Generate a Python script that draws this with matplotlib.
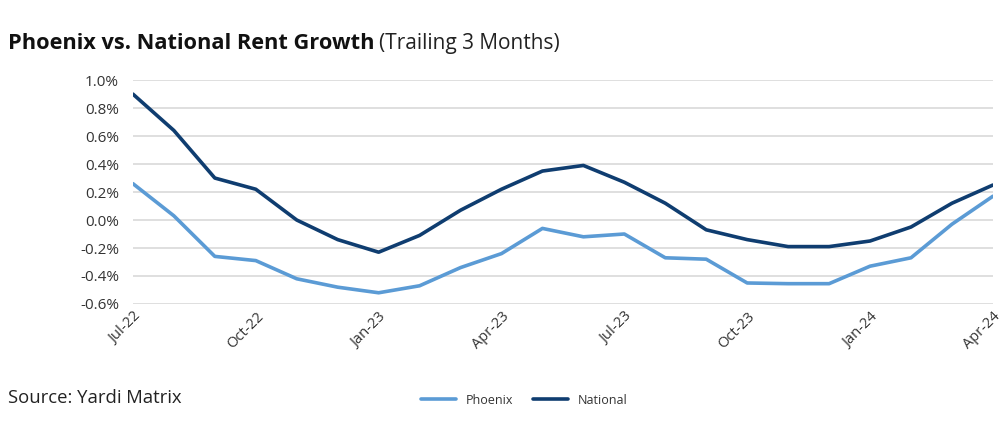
import matplotlib
matplotlib.use("Agg")
import matplotlib.pyplot as plt
from matplotlib.ticker import FuncFormatter

# monthly, Jul-22 .. Apr-24
months = ["Jul-22", "Aug-22", "Sep-22", "Oct-22", "Nov-22", "Dec-22",
          "Jan-23", "Feb-23", "Mar-23", "Apr-23", "May-23", "Jun-23",
          "Jul-23", "Aug-23", "Sep-23", "Oct-23", "Nov-23", "Dec-23",
          "Jan-24", "Feb-24", "Mar-24", "Apr-24"]
phoenix = [0.26, 0.03, -0.26, -0.29, -0.42, -0.48, -0.52, -0.47, -0.34, -0.24,
           -0.06, -0.12, -0.10, -0.27, -0.28, -0.45, -0.455, -0.455, -0.33,
           -0.27, -0.03, 0.17]
national = [0.90, 0.64, 0.30, 0.22, 0.00, -0.14, -0.23, -0.11, 0.07, 0.22,
            0.35, 0.39, 0.27, 0.12, -0.07, -0.14, -0.19, -0.19, -0.15,
            -0.05, 0.12, 0.25]
yticks = [-0.6, -0.4, -0.2, 0.0, 0.2, 0.4, 0.6, 0.8, 1.0]

c_phx = "#5b9bd5"
c_nat = "#0f3d70"
txt = "#333333"
fam = "Open Sans"

fig = plt.figure(figsize=(10.07, 4.33), dpi=100)
ax = fig.add_axes([0.132, 0.298, 0.854, 0.517])

x = list(range(len(months)))
ax.plot(x, phoenix, color=c_phx, lw=2.6, label="Phoenix", solid_capstyle="round")
ax.plot(x, national, color=c_nat, lw=2.6, label="National", solid_capstyle="round")

ax.set_xlim(0, len(months) - 1)
ax.set_ylim(-0.6, 1.0)
ax.set_yticks(yticks)
ax.yaxis.set_major_formatter(FuncFormatter(lambda v, p: f"{v:.1f}%"))
ax.set_xticks(x[::3])
ax.set_xticklabels(months[::3], rotation=45, ha="right", rotation_mode="anchor",
                   fontsize=10.5, family=fam, color=txt)
for lab in ax.get_yticklabels():
    lab.set_family(fam)
    lab.set_fontsize(11)
    lab.set_color(txt)

ax.grid(axis="y", color="#d9d9d9", lw=1.2)
ax.set_axisbelow(True)
for s in ax.spines.values():
    s.set_visible(False)
ax.tick_params(axis="both", length=0)
ax.tick_params(axis="y", pad=10)
ax.tick_params(axis="x", pad=4)

title = fig.text(0.008, 0.90, "Phoenix vs. National Rent Growth", fontsize=15.7,
                 fontweight="bold", family=fam, color="#111111", va="center")
fig.canvas.draw()
bb = title.get_window_extent().transformed(fig.transFigure.inverted())
fig.text(bb.x1 + 0.004, 0.90, "(Trailing 3 Months)", fontsize=15, family=fam,
         color="#222222", va="center")
fig.text(0.008, 0.08, "Source: Yardi Matrix", fontsize=13.3, family=fam,
         color="#222222", va="center")

ax.legend(loc="center", bbox_to_anchor=(0.455, -0.43), ncol=2, frameon=False,
          prop={"family": fam, "size": 9}, handlelength=2.8, columnspacing=1.6,
          labelcolor=txt)

fig.savefig("out.png", dpi=100)
